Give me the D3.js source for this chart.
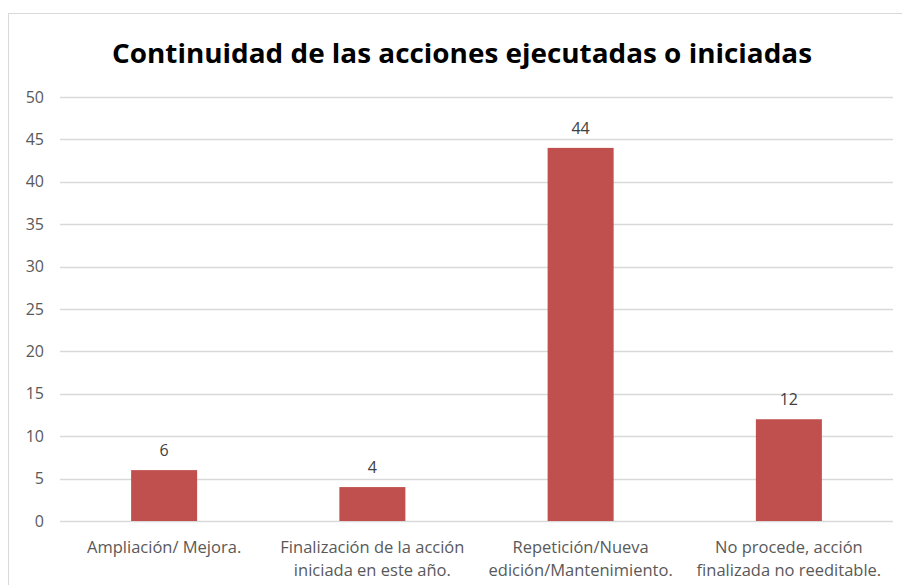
<!DOCTYPE html>
<html>
<head>
<meta charset="utf-8">
<script src="https://cdn.jsdelivr.net/npm/d3@7"></script>
<style>
  body { margin: 0; background: #fff; }
  svg { display: block; font-family: "Open Sans", "DejaVu Sans", sans-serif; }
</style>
</head>
<body>
<script>
// chart data
const categories = [
  ["Ampliación/ Mejora."],
  ["Finalización de la acción", "iniciada en este año."],
  ["Repetición/Nueva", "edición/Mantenimiento."],
  ["No procede, acción", "finalizada no reeditable."]
];
const values = [6, 4, 44, 12];
const yTicks = [0, 5, 10, 15, 20, 25, 30, 35, 40, 45, 50];
const title = "Continuidad de las acciones ejecutadas o iniciadas";

const w = 902, h = 585;
const margin = { left: 60, right: 9, top: 97, bottom: 64 };

const svg = d3.select('body').append('svg')
  .attr('width', w)
  .attr('height', h);

// chart frame
svg.append('rect')
  .attr('x', 8.5).attr('y', 13.5)
  .attr('width', 900).attr('height', 600)
  .attr('fill', '#fff')
  .attr('stroke', '#d9d9d9');

const x = d3.scaleBand()
  .domain(d3.range(categories.length))
  .range([margin.left, w - margin.right])
  .paddingInner(0.683)
  .paddingOuter(0.3415);

const y = d3.scaleLinear()
  .domain([0, 50])
  .range([h - margin.bottom, margin.top]);

// gridlines
svg.append('g')
  .selectAll('line')
  .data(yTicks)
  .enter().append('line')
  .attr('x1', margin.left).attr('x2', w - margin.right)
  .attr('y1', d => Math.round(y(d)) + 0.5)
  .attr('y2', d => Math.round(y(d)) + 0.5)
  .attr('stroke', '#d9d9d9')
  .attr('stroke-width', 1.5);

// y axis labels
const yAxis = svg.append('g')
  .attr('transform', `translate(${margin.left - 16},0)`)
  .call(d3.axisLeft(y).tickValues(yTicks).tickSize(0).tickPadding(0));
yAxis.select('.domain').remove();
yAxis.selectAll('text')
  .attr('fill', '#595959')
  .attr('font-size', 16)
  .attr('font-family', '"Open Sans", sans-serif');

// bars
svg.append('g')
  .selectAll('rect')
  .data(values)
  .enter().append('rect')
  .attr('x', (d, i) => x(i))
  .attr('y', d => y(d))
  .attr('width', x.bandwidth())
  .attr('height', d => y(0) - y(d))
  .attr('fill', '#c0504d');

// value labels
svg.append('g')
  .selectAll('text')
  .data(values)
  .enter().append('text')
  .attr('x', (d, i) => x(i) + x.bandwidth() / 2)
  .attr('y', d => y(d) - 14)
  .attr('text-anchor', 'middle')
  .attr('fill', '#404040')
  .attr('font-size', 16)
  .text(d => d);

// category labels
const cat = svg.append('g')
  .selectAll('text')
  .data(categories)
  .enter().append('text')
  .attr('text-anchor', 'middle')
  .attr('fill', '#595959')
  .attr('font-size', 16.5);
cat.each(function (lines, i) {
  d3.select(this).selectAll('tspan')
    .data(lines)
    .enter().append('tspan')
    .attr('x', x(i) + x.bandwidth() / 2)
    .attr('y', (d, j) => y(0) + 32 + j * 23)
    .text(d => d);
});

// title
svg.append('text')
  .attr('x', 462)
  .attr('y', 63)
  .attr('text-anchor', 'middle')
  .attr('font-size', 27)
  .attr('font-weight', 'bold')
  .attr('fill', '#000')
  .attr('textLength', 700)
  .attr('lengthAdjust', 'spacingAndGlyphs')
  .text(title);
</script>
</body>
</html>
